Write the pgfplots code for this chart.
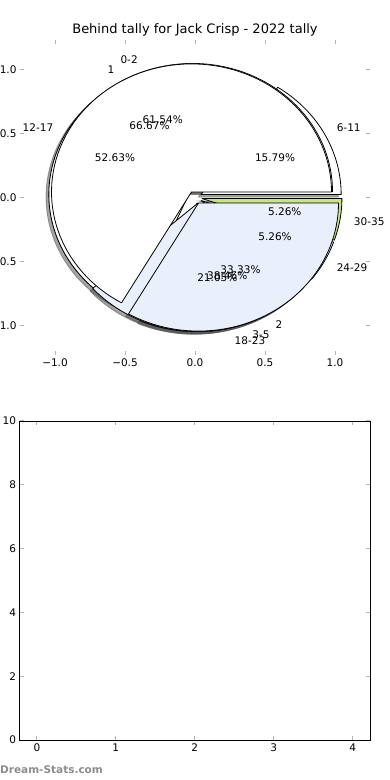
\documentclass[border=0pt]{standalone}
\usepackage{pgfplots}
\pgfplotsset{compat=1.18}
\usepackage{pgfplotstable}
\usepackage{fontspec}
\setmainfont{DejaVu Sans}
\definecolor{pieblue}{HTML}{EAF0FB}
\definecolor{piegreen}{HTML}{C8E383}
\definecolor{tickgray}{HTML}{B4B4B4}
\definecolor{wmgray}{HTML}{8C8C8C}
\newcommand\tickfont{\fontsize{10.5bp}{12bp}\selectfont}
\newcommand\piefont{\fontsize{10.5bp}{12bp}\selectfont}

\pgfplotstableread{
label count color
6-11 3 white
12-17 10 white
18-23 4 pieblue
24-29 1 white
30-35 1 piegreen
}\pieA
\pgfplotstableread{
label count color
0-2 8 white
3-5 5 pieblue
}\pieB
\pgfplotstableread{
label count color
1 2 white
2 1 pieblue
}\pieC

% #1 table, #2 mode: 0 shadow, 1 wedge, 2 text
\newcommand\piepass[2]{%
  \gdef\pietotal{0}%
  \pgfplotstableforeachcolumnelement{count}\of#1\as\cval{%
    \pgfmathsetmacro\pietmp{\pietotal+\cval}\xdef\pietotal{\pietmp}}%
  \gdef\piestart{0}%
  \pgfplotstableforeachcolumnelement{count}\of#1\as\cval{%
    \pgfplotstablegetelem{\pgfplotstablerow}{label}\of#1\let\plabel\pgfplotsretval
    \pgfplotstablegetelem{\pgfplotstablerow}{color}\of#1\let\pcol\pgfplotsretval
    \pgfmathsetmacro\wa{\piestart}%
    \pgfmathsetmacro\wb{\piestart+360*\cval/\pietotal}%
    \pgfmathsetmacro\wm{(\wa+\wb)/2}%
    \pgfmathsetmacro\wcx{0.05*cos(\wm)}%
    \pgfmathsetmacro\wcy{0.05*sin(\wm)}%
    \ifcase#2
      \filldraw[black!70, fill opacity=0.5, draw opacity=0.5, line width=0.8bp]
        (axis cs:{\wcx-0.02},{\wcy-0.02})
        \foreach \k in {0,...,90}{ -- (axis cs:{\wcx-0.02+cos(\wa+(\wb-\wa)*\k/90)},{\wcy-0.02+sin(\wa+(\wb-\wa)*\k/90)})} -- cycle;
    \or
      \filldraw[fill=\pcol, draw=black, line width=0.8bp, line join=round]
        (axis cs:\wcx,\wcy)
        \foreach \k in {0,...,90}{ -- (axis cs:{\wcx+cos(\wa+(\wb-\wa)*\k/90)},{\wcy+sin(\wa+(\wb-\wa)*\k/90)})} -- cycle;
    \or
      \pgfmathsetmacro\lx{\wcx+1.1*cos(\wm)}%
      \pgfmathsetmacro\ly{\wcy+1.1*sin(\wm)}%
      \pgfmathsetmacro\ppx{\wcx+0.6*cos(\wm)}%
      \pgfmathsetmacro\ppy{\wcy+0.6*sin(\wm)}%
      \pgfmathsetmacro\pct{100*\cval/\pietotal}%
      \pgfmathtruncatemacro\isright{\lx>0}%
      \ifnum\isright=1 \def\lanc{west}\else\def\lanc{east}\fi
      \node[anchor=\lanc, inner sep=0pt, font=\piefont] at (axis cs:\lx,\ly) {\plabel};
      \node[anchor=center, inner sep=0pt, font=\piefont] at (axis cs:\ppx,\ppy)
        {\pgfmathprintnumber[fixed,fixed zerofill,precision=2,assume math mode=true]{\pct}\%};
    \fi
    \xdef\piestart{\wb}%
  }%
}

\begin{document}
\begin{tikzpicture}
\begin{axis}[
  at={(20bp,425bp)}, anchor=south west, scale only axis,
  width=350bp, height=315bp,
  xmin=-1.25, xmax=1.25, ymin=-1.23, ymax=1.23,
  clip=false,
  axis line style={draw=none},
  xtick={-1,-0.5,0,0.5,1},
  xticklabels={−1.0,−0.5,0.0,0.5,1.0},
  ytick={-1,-0.5,0,0.5,1},
  yticklabels={−1.0,−0.5,0.0,0.5,1.0},
  tick style={draw=tickgray, line width=1bp},
  major tick length=4bp,
  tick label style={font=\tickfont},
]
\pgfplotsextra{%
  \piepass\pieA0 \piepass\pieB0 \piepass\pieC0
  \piepass\pieA1 \piepass\pieB1 \piepass\pieC1
  \piepass\pieA2 \piepass\pieB2 \piepass\pieC2
}
\end{axis}

\begin{axis}[
  at={(19.5bp,40bp)}, anchor=south west, scale only axis,
  width=350.5bp, height=319bp,
  xmin=-0.22, xmax=4.22, ymin=0, ymax=10,
  xtick={0,1,2,3,4}, ytick={0,2,4,6,8,10},
  axis line style={draw=black, line width=0.8bp},
  tick style={draw=tickgray, line width=1bp},
  major tick length=4bp,
  tick label style={font=\tickfont},
  /pgf/number format/assume math mode=true,
]
\end{axis}

\node[font=\fontsize{13bp}{15bp}\selectfont] at (195bp,750.5bp) {Behind tally for Jack Crisp - 2022 tally};
\node[anchor=west, inner sep=0pt, text=wmgray, font=\bfseries\fontsize{10.5bp}{12bp}\selectfont] at (0bp,10bp) {Dream-Stats.com};

\pgfresetboundingbox
\path (0,0) rectangle (390bp,780bp);
\end{tikzpicture}
\end{document}
